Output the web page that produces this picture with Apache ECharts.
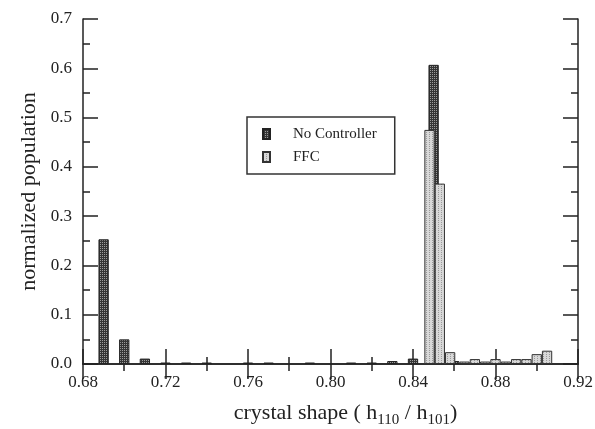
<!DOCTYPE html>
<html>
<head>
<meta charset="utf-8">
<script src="https://cdn.jsdelivr.net/npm/echarts@6/dist/echarts.min.js"></script>
<style>
html,body{margin:0;padding:0;background:#fff;}
#c{width:595px;height:429px;}
</style>
</head>
<body>
<div id="c"></div>
<script>
// ---- data ----
var noControllerX = [0.69, 0.70, 0.71, 0.72, 0.73, 0.74, 0.76, 0.77, 0.79, 0.81, 0.82, 0.83, 0.84, 0.85, 0.86];
var noControllerY = [0.253, 0.050, 0.011, 0.003, 0.003, 0.003, 0.003, 0.003, 0.003, 0.003, 0.003, 0.006, 0.011, 0.607, 0.006];
var ffcX = [0.848, 0.853, 0.858, 0.865, 0.870, 0.875, 0.880, 0.885, 0.890, 0.895, 0.900, 0.905];
var ffcY = [0.475, 0.366, 0.024, 0.005, 0.010, 0.005, 0.010, 0.005, 0.010, 0.010, 0.020, 0.027];
var xTicks = [0.68, 0.72, 0.76, 0.80, 0.84, 0.88, 0.92];
var yTicks = [0.0, 0.1, 0.2, 0.3, 0.4, 0.5, 0.6, 0.7];
var seriesNames = ['No Controller', 'FFC'];

function pattern(bg, fg, kind) {
  var c = document.createElement('canvas');
  var g;
  if (kind === 'dots') {
    c.width = 2; c.height = 2;
    g = c.getContext('2d');
    g.fillStyle = bg; g.fillRect(0, 0, 2, 2);
    g.fillStyle = fg; g.fillRect(0, 0, 1, 1);
  } else {
    c.width = 3; c.height = 2;
    g = c.getContext('2d');
    g.fillStyle = bg; g.fillRect(0, 0, 3, 2);
    g.fillStyle = fg; g.fillRect(0, 0, 1, 1);
  }
  return {image: c, repeat: 'repeat'};
}
var darkFill = pattern('#353535', '#9c9c9c', 'dots');
var lightFill = pattern('#d8d8d8', '#9a9a9a', 'lines');

function pairs(xs, ys) { return xs.map(function (x, i) { return [x, ys[i]]; }); }

var font = 'Liberation Serif';
var chart = echarts.init(document.getElementById('c'), null, {renderer: 'canvas'});
var axisLineStyle = {color: '#222', width: 1.5};
chart.setOption({
  animation: false,
  backgroundColor: '#fff',
  textStyle: {fontFamily: font, color: '#222'},
  grid: {left: 83, right: 17, top: 19, bottom: 65, containLabel: false, outerBoundsMode: 'none'},
  legend: {
    orient: 'vertical', left: 247, top: 117,
    data: seriesNames,
    icon: 'rect', itemWidth: 7, itemHeight: 10, itemGap: 7,
    borderColor: '#333', borderWidth: 1.5, borderRadius: 0,
    padding: [9, 18, 9, 15],
    textStyle: {fontFamily: font, fontSize: 15, color: '#222', lineHeight: 16, padding: [0, 0, 0, 18]}
  },
  xAxis: [{
    type: 'value', min: xTicks[0], max: xTicks[xTicks.length - 1], interval: 0.04,
    position: 'bottom',
    name: 'crystal shape ( h{s|110} / h{s|101})',
    nameLocation: 'middle', nameGap: 34,
    nameTextStyle: {
      fontFamily: font, fontSize: 22, color: '#222', lineHeight: 30, padding: [0, 0, 0, 30],
      rich: {s: {fontFamily: font, fontSize: 15, color: '#222', lineHeight: 30, verticalAlign: 'bottom'}}
    },
    axisLine: {show: true, lineStyle: axisLineStyle},
    axisTick: {show: true, inside: true, length: 15, lineStyle: axisLineStyle},
    minorTick: {show: true, splitNumber: 2, length: 7, lineStyle: axisLineStyle},
    splitLine: {show: false},
    axisLabel: {fontFamily: font, fontSize: 17, color: '#222', margin: 10,
      formatter: function (v) { return v.toFixed(2); }}
  }, {
    type: 'value', min: xTicks[0], max: xTicks[xTicks.length - 1], interval: 0.04,
    position: 'top',
    axisLine: {show: true, lineStyle: axisLineStyle},
    axisTick: {show: true, inside: true, length: 15, lineStyle: axisLineStyle},
    minorTick: {show: true, splitNumber: 2, length: 7, lineStyle: axisLineStyle},
    splitLine: {show: false},
    axisLabel: {show: false}
  }],
  yAxis: [{
    type: 'value', min: yTicks[0], max: yTicks[yTicks.length - 1], interval: 0.1,
    position: 'left',
    name: 'normalized population', nameLocation: 'middle', nameGap: 43,
    nameTextStyle: {fontFamily: font, fontSize: 22, color: '#222'},
    axisLine: {show: true, lineStyle: axisLineStyle},
    axisTick: {show: true, inside: true, length: 15, lineStyle: axisLineStyle},
    minorTick: {show: true, splitNumber: 2, length: 7, lineStyle: axisLineStyle},
    splitLine: {show: false},
    axisLabel: {fontFamily: font, fontSize: 17, color: '#222', margin: 11,
      formatter: function (v) { return v.toFixed(1); }}
  }, {
    type: 'value', min: yTicks[0], max: yTicks[yTicks.length - 1], interval: 0.1,
    position: 'right',
    axisLine: {show: true, lineStyle: axisLineStyle},
    axisTick: {show: true, inside: true, length: 15, lineStyle: axisLineStyle},
    minorTick: {show: true, splitNumber: 2, length: 7, lineStyle: axisLineStyle},
    splitLine: {show: false},
    axisLabel: {show: false}
  }],
  series: [{
    name: seriesNames[0], type: 'bar', xAxisIndex: 0, yAxisIndex: 0,
    data: pairs(noControllerX, noControllerY),
    barWidth: 10.3, barGap: '-100%', z: 2,
    itemStyle: {color: darkFill, borderColor: '#222', borderWidth: 1}
  }, {
    name: seriesNames[1], type: 'bar', xAxisIndex: 0, yAxisIndex: 0,
    data: pairs(ffcX, ffcY),
    barWidth: 10.3, barGap: '-100%', z: 3,
    itemStyle: {color: lightFill, borderColor: '#333', borderWidth: 1}
  }]
});
</script>
</body>
</html>
